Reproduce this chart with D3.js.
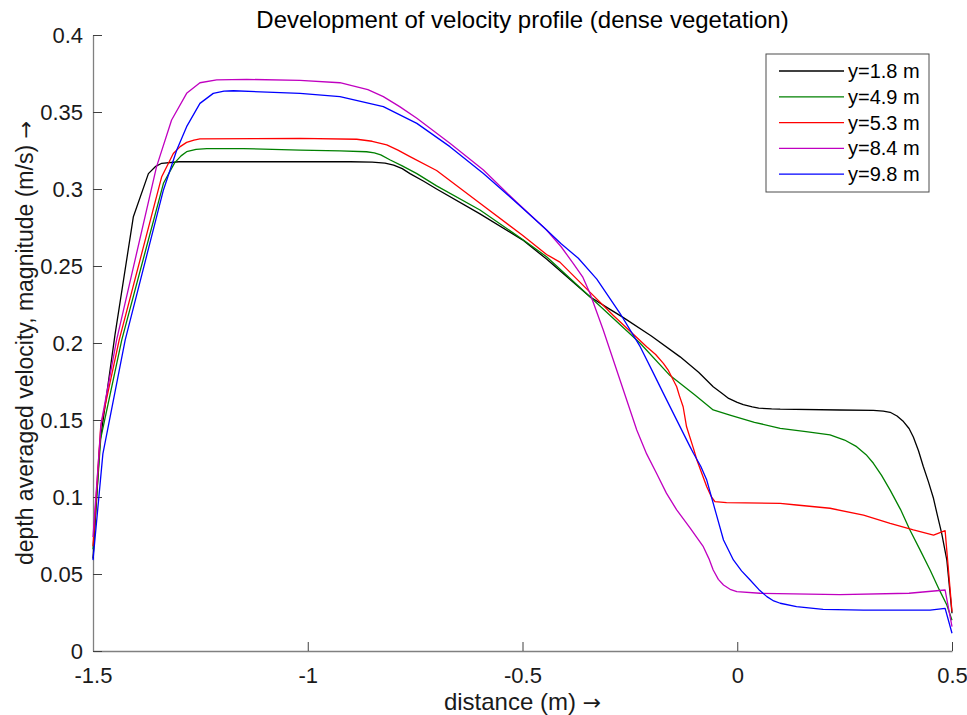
<!DOCTYPE html>
<html lang="en">
<head>
<meta charset="utf-8">
<title>Development of velocity profile</title>
<script src="https://d3js.org/d3.v7.min.js"></script>
<style>
  body { margin: 0; background: #fff; }
  svg { font-family: "Liberation Sans", Arial, sans-serif; }
</style>
</head>
<body>
<script>
// series data: [distance (m), velocity (m/s)]
var y18 = [[-1.5,0.060],[-1.484,0.135],[-1.449,0.205],[-1.406,0.282],[-1.371,0.310],[-1.355,0.3145],[-1.340,0.3167],
  [-1.30,0.3177],[-0.90,0.3177],[-0.85,0.3175],[-0.82,0.3168],[-0.80,0.3155],[-0.78,0.3132],[-0.762,0.310],[-0.73,0.305],
  [-0.70,0.300],[-0.60,0.284],[-0.50,0.267],[-0.444,0.2545],[-0.343,0.230],[-0.30,0.2225],[-0.265,0.2165],[-0.20,0.2045],
  [-0.133,0.191],[-0.09,0.181],[-0.056,0.1716],[-0.035,0.1672],[-0.02,0.164],[0.0,0.1615],[0.014,0.160],[0.035,0.1585],
  [0.05,0.1577],[0.08,0.1572],[0.10,0.157],[0.239,0.1565],[0.317,0.1562],[0.34,0.1557],[0.356,0.155],[0.372,0.1526],
  [0.387,0.149],[0.40,0.1445],[0.410,0.139],[0.422,0.130],[0.433,0.120],[0.445,0.110],[0.457,0.099],[0.466,0.088],
  [0.476,0.0764],[0.488,0.059],[0.500,0.0245]];

var y49 = [[-1.5,0.066],[-1.482,0.138],[-1.433,0.202],[-1.336,0.3037],[-1.31,0.317],[-1.295,0.3215],[-1.282,0.3242],
  [-1.26,0.3257],[-1.235,0.3262],[-1.15,0.3262],[-1.018,0.3253],[-0.925,0.3248],[-0.863,0.3242],[-0.845,0.3235],
  [-0.83,0.3222],[-0.809,0.319],[-0.78,0.315],[-0.746,0.310],[-0.70,0.302],[-0.599,0.2864],[-0.498,0.2669],[-0.444,0.256],
  [-0.343,0.230],[-0.226,0.1998],[-0.157,0.179],[-0.10,0.1665],[-0.056,0.1565],[-0.017,0.1532],[0.04,0.1485],
  [0.10,0.1446],[0.16,0.1425],[0.216,0.1403],[0.25,0.137],[0.278,0.1327],[0.30,0.1275],[0.317,0.1219],[0.336,0.114],
  [0.356,0.1045],[0.38,0.092],[0.402,0.0786],[0.425,0.066],[0.449,0.0526],[0.47,0.040],[0.488,0.0299],[0.500,0.020]];

var y53 = [[-1.5,0.068],[-1.482,0.146],[-1.439,0.202],[-1.340,0.308],[-1.313,0.323],[-1.297,0.3275],[-1.282,0.3303],
  [-1.265,0.3318],[-1.251,0.3325],[-1.018,0.3329],[-0.886,0.3323],[-0.85,0.331],[-0.816,0.3286],[-0.79,0.3252],
  [-0.762,0.321],[-0.70,0.312],[-0.599,0.2907],[-0.50,0.270],[-0.444,0.2575],[-0.413,0.2525],[-0.35,0.235],
  [-0.289,0.218],[-0.211,0.1976],[-0.19,0.1925],[-0.172,0.1868],[-0.16,0.182],[-0.149,0.176],[-0.141,0.1716],
  [-0.135,0.166],[-0.126,0.1586],[-0.118,0.1456],[-0.102,0.1316],[-0.094,0.124],[-0.071,0.1067],[-0.06,0.100],
  [-0.052,0.097],[-0.025,0.0963],[0.10,0.0959],[0.138,0.0948],[0.216,0.0927],[0.294,0.0883],[0.356,0.0829],
  [0.410,0.0786],[0.457,0.0753],[0.484,0.0781],[0.500,0.0255]];

var y84 = [[-1.5,0.074],[-1.481,0.148],[-1.445,0.202],[-1.352,0.3145],[-1.317,0.3448],[-1.282,0.3621],[-1.251,0.369],
  [-1.212,0.3708],[-1.142,0.3712],[-1.018,0.3705],[-0.925,0.369],[-0.902,0.3675],[-0.86,0.3645],[-0.824,0.360],
  [-0.786,0.3535],[-0.746,0.3459],[-0.669,0.3297],[-0.591,0.3123],[-0.514,0.2915],[-0.444,0.2734],[-0.41,0.2625],
  [-0.382,0.2517],[-0.36,0.243],[-0.343,0.2323],[-0.312,0.2084],[-0.273,0.176],[-0.234,0.1435],[-0.211,0.128],
  [-0.188,0.1154],[-0.165,0.1025],[-0.141,0.0916],[-0.11,0.080],[-0.079,0.0677],[-0.066,0.060],[-0.056,0.0526],
  [-0.044,0.0465],[-0.032,0.0429],[-0.015,0.0398],[-0.001,0.0385],[0.053,0.0375],[0.239,0.0366],[0.40,0.0375],
  [0.484,0.0396],[0.500,0.0158]];

var y98 = [[-1.5,0.059],[-1.477,0.128],[-1.425,0.202],[-1.336,0.2994],[-1.305,0.3253],[-1.282,0.3405],[-1.251,0.3556],
  [-1.220,0.3621],[-1.195,0.3635],[-1.173,0.3638],[-1.018,0.3621],[-0.925,0.360],[-0.824,0.3535],[-0.746,0.3426],
  [-0.669,0.3275],[-0.591,0.310],[-0.521,0.2929],[-0.45,0.275],[-0.41,0.2645],[-0.37,0.255],[-0.327,0.2415],
  [-0.273,0.2193],[-0.226,0.1976],[-0.195,0.1803],[-0.172,0.1673],[-0.110,0.1327],[-0.102,0.1284],[-0.085,0.120],
  [-0.071,0.111],[-0.05,0.090],[-0.032,0.0721],[-0.009,0.0591],[0.010,0.052],[0.030,0.0461],[0.05,0.040],
  [0.069,0.0353],[0.085,0.0325],[0.100,0.031],[0.138,0.0288],[0.20,0.027],[0.294,0.0266],[0.449,0.0266],
  [0.484,0.0277],[0.500,0.0115]];

var seriesNames = ["y=1.8 m", "y=4.9 m", "y=5.3 m", "y=8.4 m", "y=9.8 m"];
var seriesData = [y18, y49, y53, y84, y98];
var seriesColors = ["#000000", "#008000", "#ff0000", "#c000c0", "#0000ff"];

var xTicks = [-1.5, -1, -0.5, 0, 0.5];
var xTickLabels = ["-1.5", "-1", "-0.5", "0", "0.5"];
var yTicks = [0, 0.05, 0.1, 0.15, 0.2, 0.25, 0.3, 0.35, 0.4];
var yTickLabels = ["0", "0.05", "0.1", "0.15", "0.2", "0.25", "0.3", "0.35", "0.4"];

var titleText = "Development of velocity profile (dense vegetation)";
var xLabel = "distance (m) ";
var yLabel = "depth averaged velocity, magnitude (m/s) ";
var arrow = "\u2192";

// chart size
var w = 967, h = 715;
var margin = {left: 93, right: 15, top: 35, bottom: 64};

var svg = d3.select("body").append("svg")
  .attr("width", w)
  .attr("height", h);

var x = d3.scaleLinear().domain([-1.5, 0.5]).range([margin.left, w - margin.right]);
var y = d3.scaleLinear().domain([0, 0.4]).range([h - margin.bottom, margin.top]);

// axes, ticks pointing inward like matlab
var xAxis = d3.axisBottom(x)
  .tickValues(xTicks)
  .tickFormat(function(d, i) { return xTickLabels[i]; })
  .tickSizeInner(-9).tickSizeOuter(0).tickPadding(16);

var yAxis = d3.axisLeft(y)
  .tickValues(yTicks)
  .tickFormat(function(d, i) { return yTickLabels[i]; })
  .tickSizeInner(-9).tickSizeOuter(0).tickPadding(10);

var gx = svg.append("g")
  .attr("transform", "translate(0," + (h - margin.bottom) + ")")
  .call(xAxis);
var gy = svg.append("g")
  .attr("transform", "translate(" + margin.left + ",0)")
  .call(yAxis);

[gx, gy].forEach(function(g) {
  g.select(".domain").attr("stroke", "#808080").attr("stroke-width", 1.3);
  g.selectAll(".tick line").attr("stroke", "#404040").attr("stroke-width", 1);
  g.selectAll(".tick text").attr("fill", "#1a1a1a").attr("font-size", 22)
    .attr("font-family", "'Liberation Sans', Arial, sans-serif");
});

// lines
var line = d3.line()
  .x(function(d) { return x(d[0]); })
  .y(function(d) { return y(d[1]); });

svg.append("g").selectAll("path")
  .data(seriesData)
  .enter()
  .append("path")
  .attr("d", line)
  .attr("fill", "none")
  .attr("stroke", function(d, i) { return seriesColors[i]; })
  .attr("stroke-width", 1.3)
  .attr("stroke-linejoin", "round");

// title and axis labels
svg.append("text")
  .attr("x", (x(-1.5) + x(0.5)) / 2)
  .attr("y", 28)
  .attr("text-anchor", "middle")
  .attr("font-size", 24)
  .attr("fill", "#000")
  .text(titleText);

var xl = svg.append("text")
  .attr("x", (x(-1.5) + x(0.5)) / 2)
  .attr("y", 710)
  .attr("text-anchor", "middle")
  .attr("font-size", 24)
  .attr("fill", "#1a1a1a")
  .text(xLabel);
xl.append("tspan").attr("font-family", "'DejaVu Sans'").attr("font-size", 22).text(arrow);

var yl = svg.append("text")
  .attr("transform", "translate(33," + (y(0.2)) + ") rotate(-90)")
  .attr("text-anchor", "middle")
  .attr("font-size", 23)
  .attr("fill", "#1a1a1a")
  .text(yLabel);
yl.append("tspan").attr("font-family", "'DejaVu Sans'").attr("font-size", 21).text(arrow);

// legend
var legend = svg.append("g").attr("transform", "translate(766,54)");
legend.append("rect")
  .attr("width", 163).attr("height", 138)
  .attr("fill", "#fff")
  .attr("stroke", "#4d4d4d").attr("stroke-width", 1);

var rows = legend.selectAll("g.row")
  .data(seriesNames)
  .enter()
  .append("g")
  .attr("class", "row")
  .attr("transform", function(d, i) { return "translate(0," + (17 + i * 25.8) + ")"; });

rows.append("line")
  .attr("x1", 13).attr("x2", 78)
  .attr("stroke", function(d, i) { return seriesColors[i]; })
  .attr("stroke-width", 1.3);

rows.append("text")
  .attr("x", 82)
  .attr("dy", "0.35em")
  .attr("font-size", 20)
  .attr("fill", "#000")
  .text(function(d) { return d; });
</script>
</body>
</html>
